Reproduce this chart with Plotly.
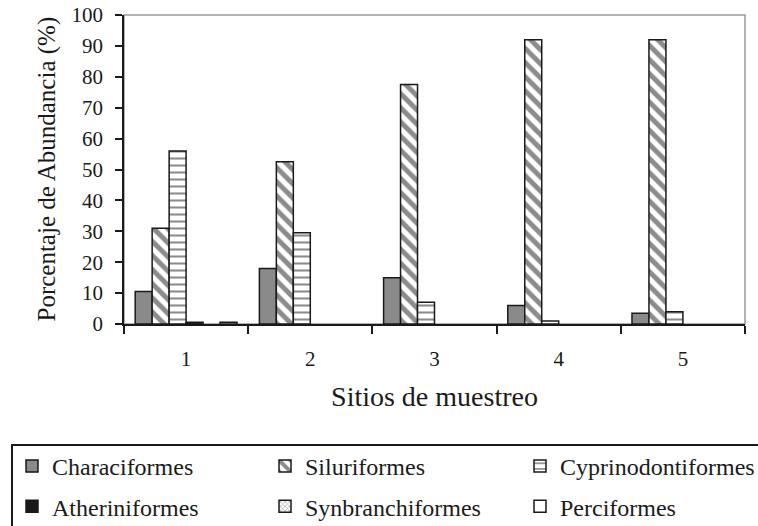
import plotly.graph_objects as go

sitios = ["1", "2", "3", "4", "5"]
characiformes = [10.5, 18.0, 15.0, 6.0, 3.5]
siluriformes = [31.0, 52.5, 77.5, 92.0, 92.0]
cyprinodontiformes = [56.0, 29.5, 7.0, 1.0, 4.0]
atheriniformes = [0.6, 0.0, 0.0, 0.0, 0.0]
synbranchiformes = [0.0, 0.0, 0.0, 0.0, 0.0]
perciformes = [0.6, 0.0, 0.0, 0.0, 0.0]

series = [
    ("Characiformes", characiformes, dict(color="#8a8a8a"), "legend"),
    ("Siluriformes", siluriformes, dict(color="white", pattern=dict(shape="\\", fgcolor="#1a1a1a", bgcolor="white", size=10, solidity=0.5)), "legend2"),
    ("Cyprinodontiformes", cyprinodontiformes, dict(color="white", pattern=dict(shape="-", fgcolor="#1a1a1a", bgcolor="white", size=7, solidity=0.3)), "legend3"),
    ("Atheriniformes", atheriniformes, dict(color="#1a1a1a"), "legend"),
    ("Synbranchiformes", synbranchiformes, dict(color="white", pattern=dict(shape="x", fgcolor="#1a1a1a", bgcolor="white", size=4, solidity=0.3)), "legend2"),
    ("Perciformes", perciformes, dict(color="white"), "legend3"),
]

fig = go.Figure()
for name, vals, mk, lg in series:
    mk = dict(mk)
    mk["line"] = dict(color="#1a1a1a", width=1.5)
    yv = [v if v > 0 else None for v in vals]
    fig.add_trace(go.Bar(name=name, x=sitios, y=yv, marker=mk, legend=lg, legendgroup=name))

W, H = 758, 526
L, R, T, B = 124, 13, 15, 202
pw, ph = W - L - R, H - T - B

def px_x(x):
    return (x - L) / pw

def px_y(y):
    return (H - B - y) / ph

legend_common = dict(
    orientation="v", xref="container", yref="container", xanchor="left", yanchor="top",
    font=dict(size=24, family="Liberation Serif", color="#1a1a1a"),
    bgcolor="rgba(0,0,0,0)", borderwidth=0, traceorder="grouped", tracegroupgap=6,
)
ly = 1 - 444 / H

fig.update_layout(
    width=W, height=H,
    margin=dict(l=L, r=R, t=T, b=B, autoexpand=False),
    paper_bgcolor="white", plot_bgcolor="white",
    barmode="group", bargap=0.18, bargroupgap=0,
    font=dict(family="Liberation Serif", color="#1a1a1a"),
    showlegend=True,
    legend=dict(legend_common, x=12 / W, y=ly),
    legend2=dict(legend_common, x=265 / W, y=ly),
    legend3=dict(legend_common, x=520 / W, y=ly),
    xaxis=dict(
        type="category", showline=True, linecolor="#1a1a1a", linewidth=1.5,
        ticks="outside", tickson="boundaries", ticklen=8, tickcolor="#1a1a1a", tickwidth=1.5,
        tickfont=dict(size=21), ticklabelstandoff=15, showgrid=False,
        title=dict(text="Sitios de muestreo", font=dict(size=28), standoff=16),
    ),
    yaxis=dict(
        range=[0, 100], dtick=10, showline=True, linecolor="#1a1a1a", linewidth=1.5,
        ticks="outside", ticklen=7, tickcolor="#1a1a1a", tickwidth=1.5,
        tickfont=dict(size=21), ticklabelstandoff=8, showgrid=False, zeroline=False,
    ),
    annotations=[
        dict(text="Porcentaje de Abundancia (%)", xref="paper", yref="paper",
             x=px_x(46), y=0.5, textangle=-90, showarrow=False,
             xanchor="center", yanchor="middle", font=dict(size=25)),
    ],
    shapes=[
        dict(type="rect", xref="paper", yref="paper", x0=0, x1=1, y0=0, y1=1,
             line=dict(color="#999999", width=1.5), layer="below"),
        dict(type="rect", xref="paper", yref="paper", x0=px_x(12), x1=px_x(820),
             y0=px_y(445), y1=px_y(580), line=dict(color="#1a1a1a", width=2), layer="above"),
    ],
)

fig.write_html("out.html", config={"displayModeBar": False},
               post_script="document.body.style.margin='0px';")
